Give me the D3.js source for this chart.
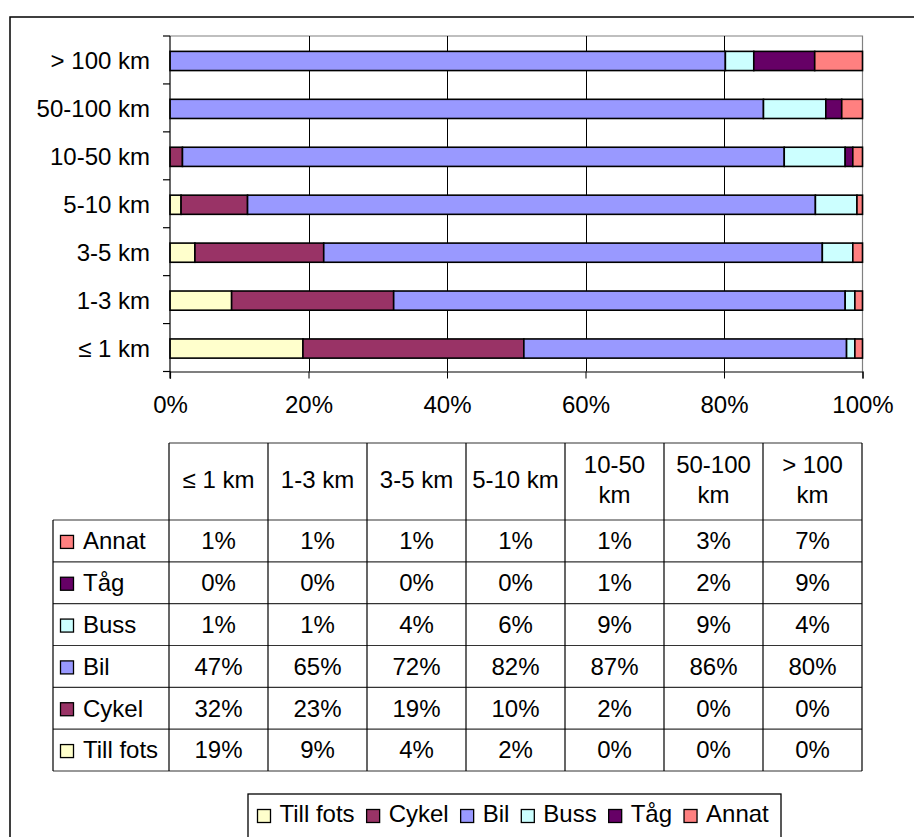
<!DOCTYPE html>
<html>
<head>
<meta charset="utf-8">
<script src="https://cdn.jsdelivr.net/npm/d3@7/dist/d3.min.js"></script>
<style>
  html, body { margin: 0; padding: 0; background: #fff; }
  svg { display: block; }
  text { font-family: "Liberation Sans", Arial, sans-serif; fill: #000; }
</style>
</head>
<body>
<svg id="chart" width="914" height="837"></svg>
<script>
// ---- data ----
const categories = ["≤ 1 km", "1-3 km", "3-5 km", "5-10 km", "10-50 km", "50-100 km", "> 100 km"];
const seriesNames = ["Till fots", "Cykel", "Bil", "Buss", "Tåg", "Annat"];
const seriesColors = ["#FFFFCC", "#993366", "#9999FF", "#CCFFFF", "#660066", "#FF8080"];
const tillFots = [19.2, 8.9, 3.6, 1.6, 0, 0, 0];
const cykel    = [31.9, 23.4, 18.6, 9.6, 1.8, 0, 0];
const bil      = [46.6, 65.2, 72.0, 82.0, 86.9, 85.7, 80.2];
const buss     = [1.2, 1.4, 4.4, 6.0, 8.8, 9.0, 4.1];
const tag      = [0, 0, 0, 0, 1.1, 2.3, 8.8];
const annat    = [1.1, 1.1, 1.4, 0.8, 1.4, 3.0, 6.9];
const xTicks = [0, 20, 40, 60, 80, 100];

(function () {
const seriesValues = [tillFots, cykel, bil, buss, tag, annat];
const rows = categories.map((c, i) => {
  const o = { cat: c };
  seriesNames.forEach((s, j) => o[s] = seriesValues[j][i]);
  return o;
});

const svg = d3.select("#chart");
const FS = 24;

// outer frame
svg.append("rect").attr("x", 10).attr("y", 17).attr("width", 930).attr("height", 850)
  .attr("fill", "none").attr("stroke", "#000").attr("stroke-width", 1.5);

// ---- plot ----
const pLeft = 170, pRight = 862.5, pTop = 36, pBottom = 371.5;
const x = d3.scaleLinear().domain([0, 100]).range([pLeft, pRight]);
const y = d3.scaleBand().domain(categories.slice().reverse()).range([pTop, pBottom])
  .paddingInner(0.6).paddingOuter(0.3);
const step = y.step();

svg.append("path").attr("d", `M${pLeft},${pTop}H${pRight}V${pBottom}`)
  .attr("fill", "none").attr("stroke", "#808080").attr("stroke-width", 1.2);

svg.append("g").selectAll("line").data(xTicks.filter(t => t > 0 && t < 100)).join("line")
  .attr("x1", d => Math.round(x(d)) + 0.5).attr("x2", d => Math.round(x(d)) + 0.5)
  .attr("y1", pTop).attr("y2", pBottom).attr("stroke", "#000").attr("stroke-width", 1);

const stack = d3.stack().keys(seriesNames);
const stacked = stack(rows);
const gBars = svg.append("g");
stacked.forEach((layer, j) => {
  gBars.append("g").attr("fill", seriesColors[j])
    .selectAll("rect").data(layer.filter(d => d[1] - d[0] > 0)).join("rect")
    .attr("x", d => x(d[0])).attr("width", d => x(d[1]) - x(d[0]))
    .attr("y", d => y(d.data.cat) + 1).attr("height", y.bandwidth())
    .attr("stroke", "#000").attr("stroke-width", 1.6);
});

const xAxis = d3.axisBottom(x).tickValues(xTicks).tickFormat(d => d + "%").tickSize(7).tickPadding(17);
const gx = svg.append("g").attr("transform", `translate(0,${pBottom})`).call(xAxis);
gx.select(".domain").attr("stroke", "#000").attr("stroke-width", 1.2);
gx.selectAll(".tick line").attr("stroke", "#000");
gx.selectAll("text").style("font-size", FS + "px").attr("font-family", "Liberation Sans, Arial");

svg.append("line").attr("x1", pLeft).attr("x2", pLeft).attr("y1", pTop).attr("y2", pBottom + 7)
  .attr("stroke", "#000").attr("stroke-width", 1.2);
const bounds = d3.range(categories.length + 1).map(i => pTop + i * step);
svg.append("g").selectAll("line").data(bounds).join("line")
  .attr("x1", pLeft - 7).attr("x2", pLeft).attr("y1", d => d).attr("y2", d => d)
  .attr("stroke", "#000").attr("stroke-width", 1.2);
svg.append("g").selectAll("text").data(categories).join("text")
  .attr("x", 150).attr("y", d => y(d) + y.bandwidth() / 2 + 1)
  .attr("dy", "0.35em").attr("text-anchor", "end").style("font-size", FS + "px")
  .text(d => d);

// ---- data table ----
const tLeft = 53, tCol0 = 169, colW = 99, tTop = 443, hdrBottom = 520, rowH = 41.83;
const tRight = tCol0 + colW * categories.length;
const tableRows = seriesNames.slice().reverse();
const tBottom = hdrBottom + rowH * tableRows.length;
const gT = svg.append("g");
gT.append("line").attr("x1", tCol0).attr("x2", tRight).attr("y1", tTop).attr("y2", tTop)
  .attr("stroke", "#333").attr("stroke-width", 1.2);
gT.selectAll("line.h").data(d3.range(tableRows.length + 1)).join("line").attr("class", "h")
  .attr("x1", tLeft).attr("x2", tRight)
  .attr("y1", i => hdrBottom + i * rowH).attr("y2", i => hdrBottom + i * rowH)
  .attr("stroke", "#333").attr("stroke-width", 1.2);
gT.append("line").attr("x1", tLeft).attr("x2", tLeft).attr("y1", hdrBottom).attr("y2", tBottom)
  .attr("stroke", "#000").attr("stroke-width", 1.2);
gT.selectAll("line.v").data(d3.range(categories.length + 1)).join("line").attr("class", "v")
  .attr("x1", i => tCol0 + i * colW).attr("x2", i => tCol0 + i * colW)
  .attr("y1", tTop).attr("y2", tBottom)
  .attr("stroke", "#000").attr("stroke-width", 1.2);
categories.forEach((c, i) => {
  const cx = tCol0 + colW * (i + 0.5);
  const t = gT.append("text").attr("x", cx).attr("text-anchor", "middle")
    .style("font-size", FS + "px").text(c).attr("y", 488);
  if (t.node().getComputedTextLength() > colW - 6) {
    const parts = c.split(" ");
    const last = parts.pop();
    t.text(null);
    t.append("tspan").attr("x", cx).attr("y", 473).text(parts.join(" "));
    t.append("tspan").attr("x", cx).attr("y", 503).text(last);
  }
});
tableRows.forEach((s, r) => {
  const j = seriesNames.indexOf(s);
  const yc = hdrBottom + rowH * (r + 0.5);
  gT.append("rect").attr("x", 60.5).attr("y", yc - 5.5).attr("width", 13).attr("height", 13)
    .attr("fill", seriesColors[j]).attr("stroke", "#000").attr("stroke-width", 1.3);
  gT.append("text").attr("x", 83).attr("y", yc).attr("dy", "0.35em")
    .style("font-size", FS + "px").text(s);
  seriesValues[j].forEach((v, i) => {
    gT.append("text").attr("x", tCol0 + colW * (i + 0.5)).attr("y", yc).attr("dy", "0.35em")
      .attr("text-anchor", "middle").style("font-size", FS + "px")
      .text(Math.round(v) + "%");
  });
});

// ---- legend ----
const gL = svg.append("g");
gL.append("rect").attr("x", 248).attr("y", 794).attr("width", 533).attr("height", 60)
  .attr("fill", "#fff").attr("stroke", "#000").attr("stroke-width", 1.3);
let lx = 257.5;
seriesNames.forEach((s, j) => {
  gL.append("rect").attr("x", lx).attr("y", 809.5).attr("width", 13).attr("height", 13)
    .attr("fill", seriesColors[j]).attr("stroke", "#000").attr("stroke-width", 1.3);
  const t = gL.append("text").attr("x", lx + 22).attr("y", 822).style("font-size", FS + "px").text(s);
  lx += 22 + t.node().getComputedTextLength() + 12;
});
})();
</script>
</body>
</html>
